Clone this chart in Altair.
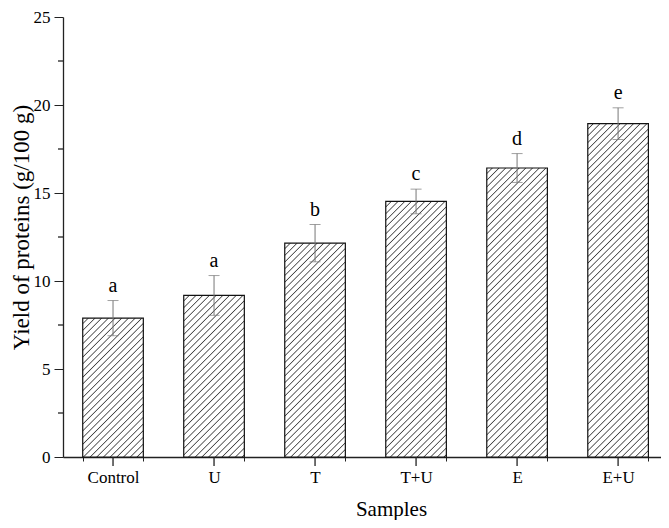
import math
import altair as alt
import pandas as pd

samples = ["Control", "U", "T", "T+U", "E", "E+U"]
means = [7.89, 9.18, 12.15, 14.52, 16.42, 18.94]
sds = [1.0, 1.13, 1.06, 0.7, 0.82, 0.9]
letters = ["a", "a", "b", "c", "d", "e"]
y_ticks = [0, 5, 10, 15, 20, 25]
y_minor = [2.5, 7.5, 12.5, 17.5, 22.5]

FONT = "Liberation Serif"
W, H = 598, 440
PAD = {"left": 55, "top": 9, "right": 0, "bottom": 63}
P_IN, P_OUT, ALIGN = 0.4, 0.16, 0.61
YMAX = 25

df = pd.DataFrame({"Sample": samples, "mean": means, "sd": sds, "letter": letters})
df["low"] = df["mean"] - df["sd"]
df["high"] = df["mean"] + df["sd"]
minor_df = pd.DataFrame({"v": y_minor})

step = W / (len(samples) - P_IN + 2 * P_OUT)
bw = step * (1 - P_IN)
px = H / YMAX


def hatch(value, spacing=6.7, line="#444444", bg="#ffffff"):
    w = bw
    h = value * px
    r = h / w
    c = (1 + r) / (1 + r * r)
    n = (w + h) / spacing
    stops = []
    k = 0
    while True:
        pts = [(k / n, bg), ((k + 0.66) / n, bg), ((k + 0.83) / n, line), ((k + 1.0) / n, bg)]
        done = False
        for o, col in pts:
            if o >= 1:
                stops.append(alt.GradientStop(offset=1, color=col))
                done = True
                break
            stops.append(alt.GradientStop(offset=o, color=col))
        if done:
            break
        k += 1
    return alt.LinearGradient(gradient="linear", stops=stops, x1=0, y1=0, x2=c, y2=c * r)


xaxis = alt.Axis(
    title="Samples", labelFont=FONT, labelFontSize=17, labelColor="black", labelAngle=0,
    tickBand="extent", tickSize=4, tickColor="#222", domainColor="#222", domainWidth=1.3,
    labelPadding=8, titleFont=FONT, titleFontSize=21, titleFontWeight="normal",
    titleColor="black", titleX=328, titleY=58, titleBaseline="alphabetic", grid=False,
)
yaxis = alt.Axis(
    title="Yield of proteins (g/100 g)", values=y_ticks, labelFont=FONT, labelFontSize=17,
    labelColor="black", tickSize=9, tickColor="#222", domainColor="#222", domainWidth=1.3,
    labelPadding=4, titleFont=FONT, titleFontSize=23, titleFontWeight="normal",
    titleColor="black", titleAngle=270, titleX=-42, titleY=210, titleBaseline="middle",
    titleAlign="center", grid=False,
)
yscale = alt.Scale(domain=[0, YMAX], nice=False)


def Y(field):
    return alt.Y(field, scale=yscale, axis=yaxis)


base = alt.Chart(df).encode(
    x=alt.X(
        "Sample:N", sort=samples,
        scale=alt.Scale(paddingInner=P_IN, paddingOuter=P_OUT, align=ALIGN),
        axis=xaxis,
    )
)

layers = []
for s, m in zip(samples, means):
    layers.append(
        base.transform_filter(alt.datum.Sample == s)
        .mark_bar(fill=hatch(m), stroke="#111", strokeWidth=1.2)
        .encode(y=Y("mean:Q"))
    )

err = base.mark_rule(color="#777", strokeWidth=1).encode(y=Y("low:Q"), y2="high:Q")
cap_lo = base.mark_tick(color="#777", size=11, thickness=1).encode(y=Y("low:Q"))
cap_hi = base.mark_tick(color="#777", size=11, thickness=1).encode(y=Y("high:Q"))
txt = base.mark_text(font=FONT, fontSize=20, dy=-9, baseline="alphabetic", color="black").encode(
    y=Y("high:Q"), text="letter:N"
)
xmajor = base.mark_rule(color="#222", strokeWidth=1.3).encode(y=alt.value(H), y2=alt.value(H + 9))
yminor = alt.Chart(minor_df).mark_rule(color="#222", strokeWidth=1.3).encode(
    y=Y("v:Q"), x=alt.value(-5), x2=alt.value(0)
)

chart = (
    alt.layer(*layers, err, cap_lo, cap_hi, txt, xmajor, yminor)
    .properties(
        width=W, height=H,
        padding=PAD,
        autosize=alt.AutoSizeParams(type="none"),
        background="white",
    )
    .configure_view(stroke=None)
)

chart.save("out.html", embed_options={"renderer": "svg", "actions": False})
